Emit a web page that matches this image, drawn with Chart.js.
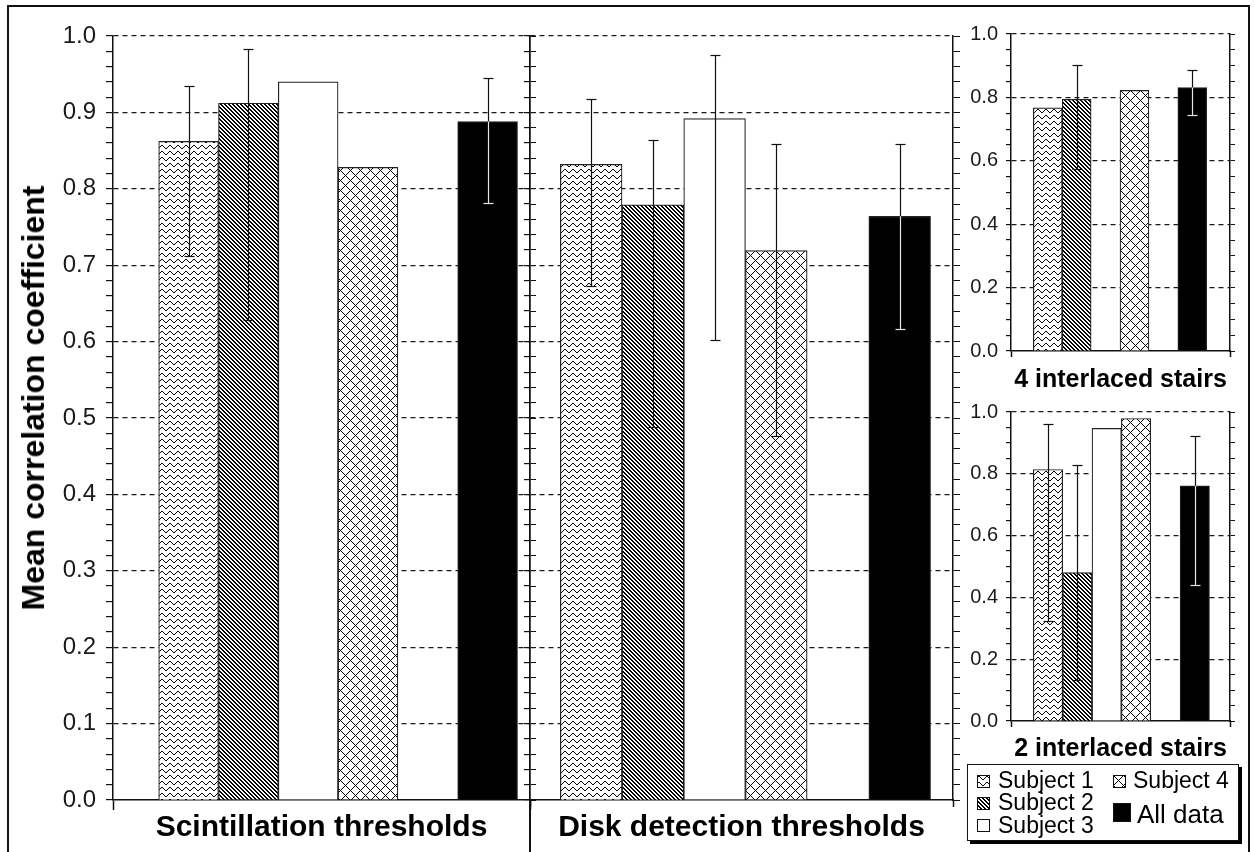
<!DOCTYPE html>
<html>
<head>
<meta charset="utf-8">
<title>Mean correlation coefficient</title>
<script src="https://cdn.jsdelivr.net/npm/chart.js@4.4.1/dist/chart.umd.min.js"></script>
<style>
  html, body { margin: 0; padding: 0; background: #fff; }
  body { position: relative; width: 1254px; height: 852px; overflow: hidden; font-family: 'Liberation Sans', Arial, sans-serif; color: #000; }
  canvas { position: absolute; }
  #frame { position: absolute; left: 7px; top: 5px; width: 1243px; height: 900px; border: 2px solid #111; box-sizing: border-box; }
  #divider { position: absolute; left: 529.25px; top: 800px; width: 1.5px; height: 52px; background: #111; }
  #ytitle { position: absolute; left: 33px; top: 398px; transform: translate(-50%, -50%) rotate(-90deg); font-weight: bold; font-size: 32px; line-height: 1; white-space: nowrap; }
  #legend { position: absolute; left: 967px; top: 764px; width: 272px; height: 77px; border: 1.5px solid #111; box-shadow: 3px 3px 0 #000; background: #fff; box-sizing: border-box; }
  .lg-text { position: absolute; white-space: nowrap; line-height: 1; }
</style>
</head>
<body>
<div id="frame"></div>
<canvas id="scint" width="545" height="852" style="left:0;top:0"></canvas>
<canvas id="disk" width="460" height="852" style="left:515px;top:0"></canvas>
<canvas id="stairs4" width="300" height="400" style="left:940px;top:0"></canvas>
<canvas id="stairs2" width="300" height="375" style="left:940px;top:392px"></canvas>
<div id="divider"></div>
<div id="ytitle">Mean correlation coefficient</div>
<div id="legend"></div>

<script>
const subjects = ['Subject 1', 'Subject 2', 'Subject 3', 'Subject 4', 'All data'];
// order of the bars along each x axis; the empty slot separates the pooled data
const slotOrder = ['Subject 1', 'Subject 2', 'Subject 3', 'Subject 4', '', 'All data'];

const scintMean = [0.862, 0.912, 0.940, 0.828, 0.888];
const scintLow  = [0.712, 0.628, null, null, 0.782];
const scintHigh = [0.935, 0.983, null, null, 0.945];

const diskMean = [0.832, 0.779, 0.892, 0.719, 0.764];
const diskLow  = [0.673, 0.488, 0.602, 0.477, 0.616];
const diskHigh = [0.918, 0.864, 0.975, 0.858, 0.858];

const stairs4Mean = [0.767, 0.794, null, 0.822, 0.831];
const stairs4Low  = [null, 0.573, null, null, 0.743];
const stairs4High = [null, 0.903, null, null, 0.888];

const stairs2Mean = [0.814, 0.480, 0.947, 0.979, 0.761];
const stairs2Low  = [0.324, 0.132, null, null, 0.439];
const stairs2High = [0.960, 0.828, null, null, 0.923];

const bigTickLabels = ['0.0', '0.1', '0.2', '0.3', '0.4', '0.5', '0.6', '0.7', '0.8', '0.9', '1.0'];
const smallTickLabels = ['0.0', '0.2', '0.4', '0.6', '0.8', '1.0'];

const FONT = "'Liberation Sans', Arial, sans-serif";
const INK = '#111';

// small bitmap tiles for the hatch fills
function makeTile(kind) {
  const c = document.createElement('canvas');
  const t = c.getContext('2d');
  if (kind === 'wave') {
    c.width = 8; c.height = 6;
    t.fillStyle = '#fff'; t.fillRect(0, 0, 8, 6);
    t.fillStyle = '#000';
    const rowOf = [2, 1, 1, 2, 3, 4, 4, 3];
    rowOf.forEach((r, x) => t.fillRect(x, r, 1, 1));
  } else if (kind === 'diag') {
    c.width = 4; c.height = 4;
    t.fillStyle = '#fff'; t.fillRect(0, 0, 4, 4);
    t.fillStyle = '#000';
    for (let i = 0; i < 4; i++) {
      t.fillRect(i, i, 1, 1);
      t.fillRect((i + 1) % 4, i, 1, 1);
    }
  } else if (kind === 'cross') {
    c.width = 10; c.height = 10;
    t.fillStyle = '#fff'; t.fillRect(0, 0, 10, 10);
    t.fillStyle = '#000';
    for (let i = 0; i < 10; i++) {
      t.fillRect(i, i, 1, 1);
      t.fillRect((10 - i) % 10, i, 1, 1);
    }
  }
  return c;
}
const tiles = { wave: makeTile('wave'), diag: makeTile('diag'), cross: makeTile('cross') };

function fillsFor(ctx) {
  return [
    ctx.createPattern(tiles.wave, 'repeat'),
    ctx.createPattern(tiles.diag, 'repeat'),
    '#ffffff',
    ctx.createPattern(tiles.cross, 'repeat'),
    '#000000'
  ];
}

const errorBars = {
  id: 'errorBars',
  afterDatasetsDraw(chart, args, opts) {
    const ctx = chart.ctx;
    const y = chart.scales.y;
    const bars = chart.getDatasetMeta(0).data;
    const half = opts.cap / 2;
    ctx.save();
    ctx.lineWidth = 1.2;
    bars.forEach((bar, i) => {
      const lo = opts.low[i], hi = opts.high[i];
      if (lo == null || hi == null) return;
      const x = Math.round(bar.x) + 0.5;
      const top = Math.round(y.getPixelForValue(hi)) + 0.5;
      const bot = Math.round(y.getPixelForValue(lo)) + 0.5;
      const dark = i === opts.darkIndex;
      const barTop = dark ? bar.y : Infinity;
      const line = (x1, y1, x2, y2, color) => {
        ctx.strokeStyle = color;
        ctx.beginPath(); ctx.moveTo(x1, y1); ctx.lineTo(x2, y2); ctx.stroke();
      };
      if (top < barTop) line(x, top, x, Math.min(bot, barTop), INK);
      if (bot > barTop) line(x, Math.max(top, barTop), x, bot, '#e6e6e6');
      line(x - half, top, x + half, top, top < barTop ? INK : '#e6e6e6');
      line(x - half, bot, x + half, bot, bot < barTop ? INK : '#e6e6e6');
    });
    ctx.restore();
  }
};

function panel(id, cfg) {
  const canvas = document.getElementById(id);
  const ctx = canvas.getContext('2d');
  const labelFor = v => {
    const hit = cfg.tickLabels.find(l => Math.abs(parseFloat(l) - v) < 1e-6);
    return hit === undefined ? '' : hit;
  };
  return new Chart(canvas, {
    type: 'bar',
    data: {
      datasets: [{
        data: cfg.mean.map((v, i) => ({ x: slotOrder.indexOf(subjects[i]) + 1, y: v })),
        backgroundColor: fillsFor(ctx),
        borderColor: '#222',
        borderWidth: 1.2,
        barPercentage: 1,
        categoryPercentage: 1
      }]
    },
    options: {
      responsive: false,
      animation: false,
      events: [],
      layout: { padding: { top: cfg.padTop, left: 0, right: 0, bottom: 0 } },
      plugins: {
        legend: { display: false },
        tooltip: { enabled: false },
        errorBars: { low: cfg.low, high: cfg.high, cap: 10, darkIndex: 4 }
      },
      scales: {
        x: {
          type: 'linear',
          min: cfg.xMin,
          max: cfg.xMax,
          offset: false,
          afterBuildTicks: s => { s.ticks = [{ value: s.min }, { value: s.max }]; },
          afterFit: s => { s.height = cfg.xHeight; },
          ticks: { display: false },
          grid: { offset: false, drawOnChartArea: false, tickLength: cfg.xTick, tickColor: INK, tickWidth: 1.5 },
          border: { color: INK, width: 1.5 },
          title: {
            display: true,
            text: cfg.title,
            color: '#000',
            font: { family: FONT, size: cfg.titleSize, weight: 'bold' },
            padding: { top: 0, bottom: cfg.titlePad }
          }
        },
        y: {
          type: 'linear',
          position: 'left',
          min: 0,
          max: 1,
          afterFit: s => { s.width = cfg.yWidth; },
          ticks: {
            display: cfg.showLabels,
            stepSize: cfg.minorStep,
            autoSkip: false,
            maxTicksLimit: 100,
            color: '#1a1a1a',
            padding: cfg.labelPad,
            font: { family: FONT, size: cfg.tickSize },
            callback: v => labelFor(v)
          },
          grid: {
            color: c => (c.tick && c.tick.value > 0.001 && labelFor(c.tick.value) !== '') ? '#1a1a1a' : 'rgba(0,0,0,0)',
            lineWidth: 1.2,
            tickColor: INK,
            tickLength: cfg.yTick
          },
          border: { color: INK, width: 1.5, dash: [5, 4] }
        },
        y2: {
          type: 'linear',
          position: 'right',
          min: 0,
          max: 1,
          afterFit: s => { s.width = cfg.y2Width; },
          ticks: { display: false, stepSize: cfg.minorStep, autoSkip: false, maxTicksLimit: 100 },
          grid: { drawOnChartArea: false, tickColor: INK, tickLength: cfg.y2Tick },
          border: { color: INK, width: 1.5 }
        }
      }
    },
    plugins: [errorBars]
  });
}

panel('scint', {
  mean: scintMean, low: scintLow, high: scintHigh,
  title: 'Scintillation thresholds', titleSize: 30, titlePad: 6,
  xMin: -0.264, xMax: 6.709, xHeight: 52, xTick: 10,
  padTop: 36, yWidth: 113, y2Width: 15, yTick: 7, y2Tick: 6,
  showLabels: true, tickLabels: bigTickLabels, minorStep: 0.02, tickSize: 24, labelPad: 10
});

panel('disk', {
  mean: diskMean, low: diskLow, high: diskHigh,
  title: 'Disk detection thresholds', titleSize: 30, titlePad: 6,
  xMin: 0.008, xMax: 6.864, xHeight: 52, xTick: 7,
  padTop: 36, yWidth: 15, y2Width: 22, yTick: 6, y2Tick: 7,
  showLabels: false, tickLabels: bigTickLabels, minorStep: 0.02, tickSize: 24, labelPad: 10
});

panel('stairs4', {
  mean: stairs4Mean, low: stairs4Low, high: stairs4High,
  title: '4 interlaced stairs', titleSize: 25, titlePad: 5,
  xMin: -0.273, xMax: 7.305, xHeight: 49, xTick: 6,
  padTop: 34, yWidth: 71, y2Width: 10, yTick: 5, y2Tick: 5,
  showLabels: true, tickLabels: smallTickLabels, minorStep: 0.05, tickSize: 20, labelPad: 8
});

panel('stairs2', {
  mean: stairs2Mean, low: stairs2Low, high: stairs2High,
  title: '2 interlaced stairs', titleSize: 25, titlePad: 3,
  xMin: -0.26, xMax: 7.2, xHeight: 46, xTick: 6,
  padTop: 13, yWidth: 71, y2Width: 10, yTick: 5, y2Tick: 5,
  showLabels: true, tickLabels: smallTickLabels, minorStep: 0.05, tickSize: 20, labelPad: 8
});

// legend box, two columns like the original figure
const legendSpots = [
  { sx: 977, sy: 775, sw: 13, sh: 13, tx: 998, top: 768.5, size: 23 },
  { sx: 977, sy: 797, sw: 13, sh: 13, tx: 998, top: 791.2, size: 23 },
  { sx: 977, sy: 819, sw: 13, sh: 13, tx: 998, top: 813.8, size: 23 },
  { sx: 1113, sy: 775, sw: 13, sh: 13, tx: 1133, top: 768.5, size: 23 },
  { sx: 1113, sy: 803, sw: 18, sh: 19, tx: 1137, top: 801.3, size: 26 }
];
subjects.forEach((name, i) => {
  const spot = legendSpots[i];
  const sw = document.createElement('canvas');
  sw.width = spot.sw; sw.height = spot.sh;
  sw.style.left = spot.sx + 'px';
  sw.style.top = spot.sy + 'px';
  const c = sw.getContext('2d');
  c.fillStyle = fillsFor(c)[i];
  c.fillRect(0, 0, spot.sw, spot.sh);
  c.strokeStyle = INK;
  c.lineWidth = 1;
  c.strokeRect(0.5, 0.5, spot.sw - 1, spot.sh - 1);
  document.body.appendChild(sw);

  const label = document.createElement('div');
  label.className = 'lg-text';
  label.textContent = name;
  label.style.left = spot.tx + 'px';
  label.style.top = spot.top + 'px';
  label.style.fontSize = spot.size + 'px';
  document.body.appendChild(label);
});
</script>
</body>
</html>
